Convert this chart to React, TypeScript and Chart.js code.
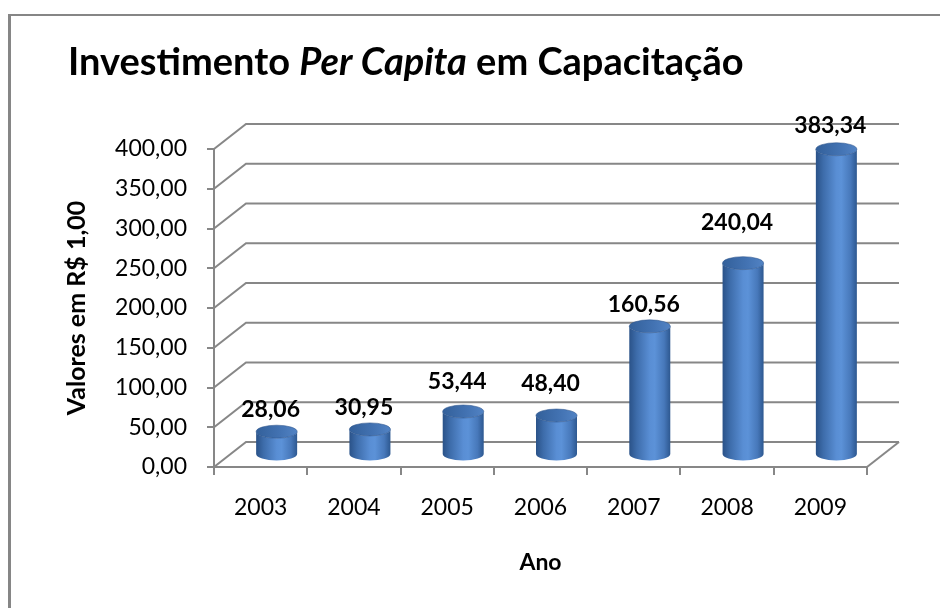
import React, { useEffect, useRef } from "react";
import { Chart, registerables } from "chart.js";

Chart.register(...registerables);

// ---- data ----
const categories: string[] = ["2003", "2004", "2005", "2006", "2007", "2008", "2009"];
const values: number[] = [28.06, 30.95, 53.44, 48.4, 160.56, 240.04, 383.34];
const yMin = 0;
const yMax = 400;
const yStep = 50;
const titleParts = [
  { text: "Investimento ", italic: false },
  { text: "Per Capita", italic: true },
  { text: " em Capacitação", italic: false },
];
const yAxisTitle = "Valores em R$ 1,00";
const xAxisTitle = "Ano";

// ---- style ----
const FONT = "Lato, 'Open Sans', sans-serif";
const GRID = "#878787";
const DX = 32; // depth offset x
const DY = 25; // depth offset y
const LABEL_GAP = 22; // gap between bar top and its value label
const LABEL_EXTRA_LIFT = [0, 0, 8, 10, 0, 19, 2]; // extra lift per label (layout tweak)
const fmt = (v: number) => v.toFixed(2).replace(".", ",");

function drawCylinder(ctx: CanvasRenderingContext2D, cx: number, yTop: number, yBot: number, rx: number, ry: number) {
  const g = ctx.createLinearGradient(cx - rx, 0, cx + rx, 0);
  g.addColorStop(0, "#2a5288");
  g.addColorStop(0.18, "#3d6caa");
  g.addColorStop(0.5, "#598ed4");
  g.addColorStop(0.62, "#5c92d8");
  g.addColorStop(0.85, "#4778ba");
  g.addColorStop(1, "#2d5890");
  ctx.beginPath();
  ctx.moveTo(cx - rx, yTop);
  ctx.lineTo(cx - rx, yBot);
  ctx.ellipse(cx, yBot, rx, ry, 0, Math.PI, 0, true);
  ctx.lineTo(cx + rx, yTop);
  ctx.ellipse(cx, yTop, rx, ry, 0, 0, Math.PI, false);
  ctx.closePath();
  ctx.fillStyle = g;
  ctx.fill();

  const gt = ctx.createLinearGradient(cx - rx, yTop, cx + rx, yTop);
  gt.addColorStop(0, "#33609a");
  gt.addColorStop(0.6, "#4373b3");
  gt.addColorStop(1, "#5283c4");
  ctx.beginPath();
  ctx.ellipse(cx, yTop, rx, ry, 0, 0, Math.PI * 2);
  ctx.fillStyle = gt;
  ctx.fill();
  ctx.strokeStyle = "rgba(45,85,140,0.7)";
  ctx.lineWidth = 0.8;
  ctx.stroke();
}

const threeDPlugin = {
  id: "threeD",
  beforeDraw(chart: any) {
    const ctx: CanvasRenderingContext2D = chart.ctx;
    ctx.save();
    ctx.fillStyle = "#ffffff";
    ctx.fillRect(0, 0, chart.width, chart.height);
    ctx.fillStyle = "#868686";
    ctx.fillRect(8, 14, 3, chart.height);
    ctx.fillRect(8, 14, chart.width, 2);

    // title
    let x = 68;
    ctx.fillStyle = "#000";
    ctx.textBaseline = "alphabetic";
    ctx.textAlign = "left";
    for (const p of titleParts) {
      ctx.font = `${p.italic ? "italic " : ""}bold 38px ${FONT}`;
      ctx.fillText(p.text, x, 75);
      x += ctx.measureText(p.text).width;
    }
    ctx.restore();
  },
  beforeDatasetsDraw(chart: any) {
    const ctx: CanvasRenderingContext2D = chart.ctx;
    const a = chart.chartArea;
    const ys = chart.scales.y;
    ctx.save();
    ctx.strokeStyle = GRID;
    ctx.lineWidth = 2;
    ctx.lineJoin = "miter";
    ys.ticks.forEach((t: any) => {
      const py = ys.getPixelForValue(t.value);
      ctx.beginPath();
      ctx.moveTo(a.left, py);
      ctx.lineTo(a.left + DX, py - DY);
      ctx.lineTo(a.right + DX, py - DY);
      ctx.stroke();
    });
    const p0 = ys.getPixelForValue(0);
    ctx.beginPath();
    ctx.moveTo(a.right, p0);
    ctx.lineTo(a.right + DX, p0 - DY);
    ctx.stroke();
    ctx.restore();
  },
  afterDatasetsDraw(chart: any) {
    const ctx: CanvasRenderingContext2D = chart.ctx;
    const xs = chart.scales.x;
    const ys = chart.scales.y;
    const data: number[] = chart.data.datasets[0].data;
    ctx.save();
    const rx = 20.5;
    const ry = 6.5;
    data.forEach((v, i) => {
      const cx = xs.getPixelForValue(i) + DX / 2;
      const yBot = ys.getPixelForValue(0) - 13;
      const yTop = ys.getPixelForValue(v) - 13;
      drawCylinder(ctx, cx, yTop, yBot, rx, ry);
    });
    ctx.fillStyle = "#000";
    ctx.font = `bold 23px ${FONT}`;
    ctx.textAlign = "center";
    ctx.textBaseline = "middle";
    data.forEach((v, i) => {
      const yTop = ys.getPixelForValue(v) - 13;
      ctx.fillText(fmt(v), xs.getPixelForValue(i) + 10, yTop - LABEL_GAP - (LABEL_EXTRA_LIFT[i] || 0));
    });
    ctx.restore();
  },
};

export default function App() {
  const ref = useRef<HTMLCanvasElement | null>(null);
  useEffect(() => {
    if (!ref.current) return;
    const chart = new Chart(ref.current, {
      type: "bar",
      data: {
        labels: categories,
        datasets: [
          {
            data: values,
            backgroundColor: "rgba(0,0,0,0)",
            borderWidth: 0,
          },
        ],
      },
      options: {
        responsive: false,
        animation: false,
        layout: { padding: { left: 58, right: 73, top: 149, bottom: 28 } },
        plugins: {
          legend: { display: false },
          tooltip: { enabled: false },
          title: { display: false },
        },
        scales: {
          x: {
            type: "category",
            offset: true,
            grid: {
              offset: true,
              drawOnChartArea: false,
              drawTicks: true,
              tickLength: 8,
              color: GRID,
              lineWidth: 2,
            },
            border: { display: true, color: GRID, width: 2 },
            ticks: { font: { family: FONT, size: 23 }, color: "#000", padding: 19, maxRotation: 0 },
            title: {
              display: true,
              text: xAxisTitle,
              font: { family: FONT, size: 23, weight: "bold" },
              color: "#000",
              padding: 4,
            },
            afterFit: (s: any) => {
              s.height = 113;
            },
          },
          y: {
            min: yMin,
            max: yMax,
            ticks: {
              stepSize: yStep,
              callback: (v: any) => fmt(Number(v)),
              font: { family: FONT, size: 23 },
              color: "#000",
              padding: 20,
            },
            grid: { drawOnChartArea: false, drawTicks: true, tickLength: 7, color: GRID, lineWidth: 2 },
            border: { display: true, color: GRID, width: 2 },
            title: {
              display: true,
              text: yAxisTitle,
              font: { family: FONT, size: 25, weight: "bold" },
              color: "#000",
              padding: 4,
            },
            afterFit: (s: any) => {
              s.width = 156;
            },
          },
        },
      } as any,
      plugins: [threeDPlugin],
    });
    return () => chart.destroy();
  }, []);
  return (
    <div style={{ position: "fixed", left: 0, top: 0, width: 940, height: 608, background: "#fff" }}>
      <canvas ref={ref} width={940} height={608} style={{ display: "block" }} />
    </div>
  );
}
